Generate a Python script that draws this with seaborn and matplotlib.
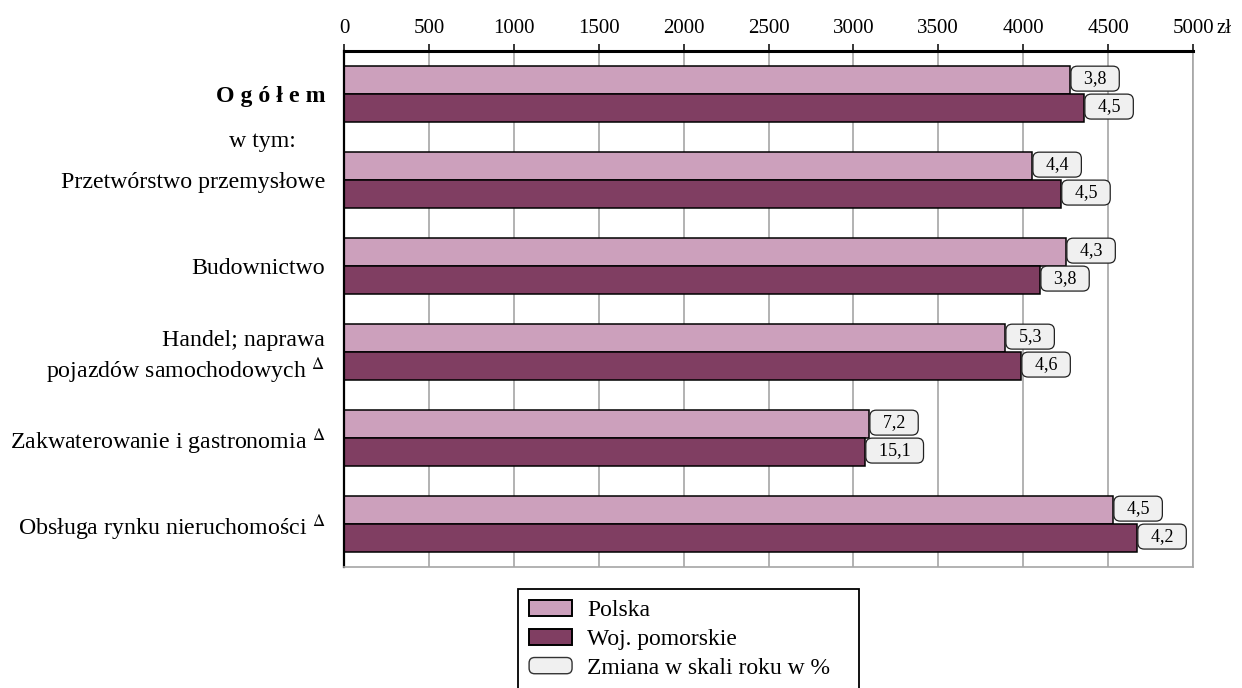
import matplotlib
matplotlib.use("Agg")
import matplotlib.pyplot as plt
import seaborn as sns
import pandas as pd
from matplotlib.patches import Patch, FancyBboxPatch
from matplotlib.legend_handler import HandlerPatch

# dane (przecietne wynagrodzenie, zl)
categories = [
    "Ogółem",
    "Przetwórstwo przemysłowe",
    "Budownictwo",
    "Handel; naprawa pojazdów samochodowych",
    "Zakwaterowanie i gastronomia",
    "Obsługa rynku nieruchomości",
]
tick_labels = [
    "O g ó ł e m",
    "Przetwórstwo przemysłowe",
    "Budownictwo",
    "Handel; naprawa\npojazdów samochodowych $^{\\Delta}$",
    "Zakwaterowanie i gastronomia $^{\\Delta}$",
    "Obsługa rynku nieruchomości $^{\\Delta}$",
]
polska = [4276, 4052, 4252, 3893, 3092, 4529]
pomorskie = [4358, 4222, 4099, 3987, 3068, 4670]
zmiana_polska = ["3,8", "4,4", "4,3", "5,3", "7,2", "4,5"]
zmiana_pomorskie = ["4,5", "4,5", "3,8", "4,6", "15,1", "4,2"]
series = ["Polska", "Woj. pomorskie"]
colors = ["#cca0bc", "#803e62"]
x_ticks = list(range(0, 5001, 500))

GRID = "#a6a6a6"
BOX_FC = "#f0f0f0"

sns.set_theme(style="white")
plt.rcParams["font.family"] = ["Liberation Serif", "DejaVu Serif"]
plt.rcParams["mathtext.fontset"] = "stix"
plt.rcParams["text.color"] = "black"
plt.rcParams["xtick.color"] = "black"
plt.rcParams["ytick.color"] = "black"

df = pd.DataFrame({
    "kategoria": categories * 2,
    "seria": [series[0]] * len(categories) + [series[1]] * len(categories),
    "wartosc": polska + pomorskie,
})

fig = plt.figure(figsize=(12.42, 6.88), dpi=100)
ax = fig.add_axes([344 / 1242, 1 - 567 / 688, (1193 - 344) / 1242, (567 - 51) / 688])

sns.barplot(data=df, y="kategoria", x="wartosc", hue="seria", order=categories,
            hue_order=series, palette=colors, orient="h", width=0.65,
            edgecolor="black", linewidth=1.1, saturation=1, errorbar=None,
            legend=False, ax=ax)

ax.set_xlim(0, 5000)
ax.set_ylim(len(categories) - 0.5, -0.5)
ax.set_xlabel("")
ax.set_ylabel("")
ax.set_axisbelow(True)
ax.xaxis.grid(True, color=GRID, linewidth=1.2)
ax.yaxis.grid(False)

ax.set_xticks(x_ticks)
ax.set_xticklabels([str(t) for t in x_ticks])
ax.tick_params(axis="x", top=True, bottom=False, labeltop=True, labelbottom=False,
               length=5, width=1.1, color="black", labelcolor="black",
               pad=4.5, labelsize=15)
ax.set_yticks(range(len(categories)))
ax.set_yticklabels(tick_labels)
ax.tick_params(axis="y", length=0, pad=13.5, labelsize=17.2, labelcolor="black")
ax.get_yticklabels()[0].set_fontweight("bold")

ax.spines["top"].set_color("black")
ax.spines["top"].set_linewidth(2.2)
ax.spines["left"].set_color("black")
ax.spines["left"].set_linewidth(1.6)
for side in ["right", "bottom"]:
    ax.spines[side].set_color(GRID)
    ax.spines[side].set_linewidth(1.2)

# jednostka przy osi
ax.annotate("zł", xy=(1, 1), xycoords="axes fraction", xytext=(17, 9.5),
            textcoords="offset points", ha="left", va="bottom", fontsize=15)

ax.annotate("w tym:", xy=(0, 0.55), xycoords="data", xytext=(-35, 0),
            textcoords="offset points", ha="right", va="center", fontsize=17.2)

# ramki ze zmiana w skali roku
for container, labels in zip(ax.containers, [zmiana_polska, zmiana_pomorskie]):
    for bar, lab in zip(container, labels):
        y = bar.get_y() + bar.get_height() / 2
        ax.annotate("  " + lab + "  ", xy=(bar.get_width(), y), xytext=(3.5, 1),
                    textcoords="offset points", ha="left", va="center", fontsize=13,
                    bbox=dict(boxstyle="round,pad=0.22,rounding_size=0.35",
                              fc=BOX_FC, ec="#222222", lw=0.9))


def rounded_box(legend, orig_handle, xdescent, ydescent, width, height, fontsize):
    return FancyBboxPatch((-xdescent, -ydescent), width, height,
                          boxstyle="round,pad=0,rounding_size=4")


handles = [
    Patch(facecolor=colors[0], edgecolor="black", linewidth=1.4, label=series[0]),
    Patch(facecolor=colors[1], edgecolor="black", linewidth=1.4, label=series[1]),
]
change_handle = Patch(facecolor=BOX_FC, edgecolor="#333333", linewidth=1.0,
                      label="Zmiana w skali roku w %   ")
handles.append(change_handle)

leg = fig.legend(handles=handles, loc="upper left",
                 bbox_to_anchor=(518 / 1242, 1 - 589 / 688),
                 handler_map={change_handle: HandlerPatch(patch_func=rounded_box)},
                 frameon=True, fancybox=False, edgecolor="black", framealpha=1,
                 fontsize=17, handlelength=1.82, handleheight=0.68,
                 handletextpad=0.65, labelspacing=0.31, borderpad=0.47,
                 borderaxespad=0)
leg.get_frame().set_linewidth(1.3)

fig.savefig("out.png", dpi=100)
